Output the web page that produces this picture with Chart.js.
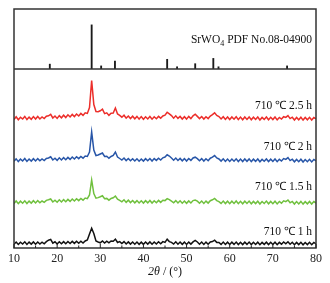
<!DOCTYPE html>
<html><head><meta charset="utf-8">
<script src="https://cdn.jsdelivr.net/npm/chart.js@4"></script>
<style>html,body{margin:0;padding:0;background:#fff;}</style>
</head><body>
<canvas id="c" width="330" height="283"></canvas>
<script>
// 2θ angles (degrees)
const angles = [
10,10.5,11,11.5,12,12.5,13,13.5,14,14.5,
15,15.5,16,16.5,17,17.5,18,18.5,19,19.5,
20,20.5,21,21.5,22,22.5,23,23.5,24,24.5,
25,25.5,26,26.5,27,27.5,28,28.5,29,29.5,
30,30.5,31,31.5,32,32.5,33,33.5,34,34.5,
35,35.5,36,36.5,37,37.5,38,38.5,39,39.5,
40,40.5,41,41.5,42,42.5,43,43.5,44,44.5,
45,45.5,46,46.5,47,47.5,48,48.5,49,49.5,
50,50.5,51,51.5,52,52.5,53,53.5,54,54.5,
55,55.5,56,56.5,57,57.5,58,58.5,59,59.5,
60,60.5,61,61.5,62,62.5,63,63.5,64,64.5,
65,65.5,66,66.5,67,67.5,68,68.5,69,69.5,
70,70.5,71,71.5,72,72.5,73,73.5,74,74.5,
75,75.5,76,76.5,77,77.5,78,78.5,79,79.5,
80];

// Stacked XRD intensities (a.u., offset)
const i25h = [
128.6,131.2,128.2,130.8,129.0,131.6,128.4,130.9,128.7,131.4,
128.9,131.5,129.0,131.0,129.4,131.8,132.2,133.6,130.0,132.0,
129.6,132.4,130.2,132.8,130.5,133.2,131.0,133.6,131.4,134.0,
132.0,134.6,132.6,135.2,134.6,140.5,167.5,143.5,136.5,136.2,
137.2,138.8,134.4,135.2,132.6,134.8,135.0,140.0,134.0,132.6,
130.8,132.8,129.9,132.0,129.4,131.8,129.2,131.6,128.9,131.4,
128.7,131.2,129.0,131.5,128.8,131.2,129.3,131.6,129.8,132.0,
132.8,135.8,134.2,132.4,129.8,132.2,129.6,131.6,129.0,131.3,
128.9,131.6,129.4,132.2,133.8,131.6,129.4,131.5,128.9,131.3,
129.4,132.0,133.4,135.2,132.6,131.4,129.0,131.3,128.6,131.0,
128.5,131.1,128.8,131.3,128.4,130.9,128.2,131.0,128.6,131.1,
128.2,130.8,128.5,131.0,128.0,130.6,128.6,131.0,128.2,130.7,
128.4,131.0,128.1,130.6,129.0,131.3,130.6,132.4,129.4,130.8,
128.0,130.6,128.2,130.8,127.9,130.5,128.2,130.7,128.0,130.5,
129.2];
const i2h = [
86.8,89.2,86.4,88.9,87.0,89.5,86.6,89.0,86.9,89.3,
87.0,89.4,87.2,89.0,87.5,89.6,90.0,91.2,88.0,89.8,
87.6,90.2,88.0,90.4,88.3,90.6,88.6,91.0,89.0,91.3,
89.4,91.6,89.8,92.0,91.5,96.0,116.0,98.0,92.5,93.0,
94.0,95.0,91.5,91.8,89.8,91.5,92.5,96.0,91.0,89.5,
88.0,90.0,87.4,89.5,87.2,89.3,87.0,89.2,86.8,89.0,
86.9,89.3,87.2,89.5,87.0,89.4,87.6,89.8,88.0,90.2,
91.0,93.2,92.0,90.0,87.8,90.0,87.5,89.6,87.2,89.4,
87.0,89.5,87.6,90.0,90.8,89.4,87.2,89.4,86.9,89.2,
87.3,89.8,90.8,92.4,90.0,89.0,86.9,89.2,86.6,89.0,
86.6,89.0,86.8,89.2,86.5,88.9,86.4,89.0,86.7,89.1,
86.4,88.8,86.6,89.0,86.2,88.6,86.7,89.0,86.4,88.8,
86.5,89.0,86.3,88.7,87.0,89.4,88.6,90.4,87.4,88.8,
86.2,88.6,86.3,88.8,86.0,88.5,86.3,88.7,86.1,88.5,
87.0];
const i15h = [
44.6,47.0,44.3,46.8,44.8,47.2,44.5,46.9,44.9,47.3,
45.0,47.4,45.2,47.0,45.6,47.6,48.2,49.0,46.0,47.8,
45.8,48.2,46.0,48.4,46.3,48.6,46.6,49.0,47.0,49.3,
47.4,49.6,47.8,50.0,49.4,53.0,68.0,54.5,49.8,50.4,
51.2,52.2,49.2,49.6,47.8,49.5,50.2,52.0,48.8,47.6,
46.2,48.2,45.6,47.8,45.4,47.5,45.2,47.4,45.0,47.2,
44.9,47.3,45.1,47.5,44.9,47.3,45.3,47.6,45.6,47.8,
47.4,49.4,48.4,46.8,45.2,47.4,45.0,47.2,44.8,47.0,
44.7,47.1,45.0,47.4,48.0,46.8,44.8,47.0,44.6,46.9,
44.9,47.3,48.2,49.6,47.4,46.4,44.6,46.9,44.4,46.8,
44.3,46.8,44.5,47.0,44.3,46.7,44.2,46.8,44.5,46.9,
44.2,46.6,44.4,46.8,44.0,46.5,44.5,46.9,44.2,46.6,
44.3,46.8,44.1,46.5,44.8,47.2,46.4,48.0,45.2,46.6,
44.0,46.4,44.1,46.6,43.9,46.3,44.2,46.6,44.0,46.4,
45.0];
const i1h = [
3.8,6.0,3.5,5.8,4.0,6.2,3.6,5.9,3.9,6.1,
3.8,6.0,4.0,5.8,4.2,6.4,7.8,8.6,4.8,6.2,
4.0,6.3,4.2,6.4,4.3,6.5,4.5,6.6,4.6,6.8,
4.8,6.8,5.0,7.0,8.0,14.0,19.8,14.5,7.0,6.0,
5.2,7.0,5.0,6.8,5.2,7.0,6.8,8.8,5.5,6.4,
4.4,6.4,4.0,6.1,3.9,6.0,3.8,6.0,3.7,5.9,
3.7,6.0,3.9,6.1,3.8,6.0,4.0,6.2,4.2,6.4,
5.6,8.8,6.4,5.6,4.0,6.2,3.8,6.0,3.7,5.9,
3.6,5.9,3.9,6.1,7.6,6.0,3.8,6.0,3.6,5.9,
3.8,6.0,6.4,7.8,5.6,5.6,3.6,5.9,3.5,5.8,
3.5,5.8,3.6,5.9,3.4,5.7,3.4,5.8,3.6,5.9,
3.4,5.7,3.5,5.8,3.3,5.6,3.6,5.8,3.4,5.7,
3.5,5.8,3.3,5.6,3.8,6.0,4.2,6.2,3.8,5.7,
3.3,5.6,3.4,5.7,3.2,5.5,3.4,5.7,3.3,5.6,
4.2];

// SrWO4 PDF No.08-04900 reference lines
const refAngles = [18.3, 28.0, 30.2, 33.4, 45.5, 47.8, 52.0, 56.2, 57.4, 73.3];
const refIntensity = [11, 100, 7, 18, 22, 5, 12, 24, 5, 7];

const seriesLabels = ['710 \u2103 2.5 h', '710 \u2103 2 h', '710 \u2103 1.5 h', '710 \u2103 1 h'];
const xTickLabels = [10, 20, 30, 40, 50, 60, 70, 80];

// annotation anchors (data coordinates)
const seriesLabelY = [142, 100.7, 60.7, 16];
const labelX = 79.1;
const refLabelY = 65;

const serif = '"Liberation Serif", "Times New Roman", serif';
const pts = ys => angles.map((a, i) => ({x: a, y: ys[i]}));
const lineDs = (label, ys, color) => ({
  type: 'line', label, data: pts(ys), yAxisID: 'yBot', borderColor: color,
  borderWidth: 1.5, pointRadius: 0, tension: 0, fill: false, borderJoinStyle: 'miter'
});

const decor = {
  id: 'decor',
  afterDraw(chart) {
    const {ctx, chartArea: ca, scales} = chart;
    const x = scales.x, yTop = scales.yTop, yBot = scales.yBot;
    ctx.save();
    ctx.strokeStyle = '#333';
    ctx.lineWidth = 1.5;
    ctx.strokeRect(ca.left, ca.top, ca.right - ca.left, ca.bottom - ca.top);
    // separator
    ctx.beginPath();
    ctx.moveTo(ca.left, yTop.bottom); ctx.lineTo(ca.right, yTop.bottom);
    ctx.stroke();
    // inward ticks
    ctx.lineWidth = 1;
    ctx.strokeStyle = '#222';
    x.ticks.forEach(t => {
      const px = x.getPixelForValue(t.value);
      const len = (t.value % 10 === 0) ? 4 : 2.5;
      ctx.beginPath();
      ctx.moveTo(px, ca.bottom); ctx.lineTo(px, ca.bottom - len);
      ctx.stroke();
    });
    // series labels
    ctx.fillStyle = '#111';
    ctx.font = '11.5px ' + serif;
    ctx.textAlign = 'right';
    ctx.textBaseline = 'middle';
    const rx = x.getPixelForValue(labelX);
    seriesLabels.forEach((s, i) => ctx.fillText(s, rx, yBot.getPixelForValue(seriesLabelY[i])));
    // SrWO4 label with subscript
    const ry = yTop.getPixelForValue(refLabelY);
    const f1 = '11.5px ' + serif, f2 = '8px ' + serif;
    ctx.font = f1; const w1 = ctx.measureText('SrWO').width;
    const w3 = ctx.measureText(' PDF No.08-04900').width;
    ctx.font = f2; const w2 = ctx.measureText('4').width;
    let sx = rx - (w1 + w2 + w3);
    ctx.textAlign = 'left';
    ctx.font = f1; ctx.fillText('SrWO', sx, ry); sx += w1;
    ctx.font = f2; ctx.fillText('4', sx, ry + 3.5); sx += w2;
    ctx.font = f1; ctx.fillText(' PDF No.08-04900', sx, ry);
    // x title: 2θ / (°)
    const fi = 'italic 12px ' + serif, fn = '12px ' + serif;
    ctx.font = fi; const a = ctx.measureText('2\u03B8').width;
    ctx.font = fn; const b = ctx.measureText(' / (\u00B0)').width;
    let tx = (ca.left + ca.right) / 2 - (a + b) / 2;
    const ty = 272;
    ctx.font = fi; ctx.fillText('2\u03B8', tx, ty); tx += a;
    ctx.font = fn; ctx.fillText(' / (\u00B0)', tx, ty);
    ctx.restore();
  }
};

const hiddenY = {
  type: 'linear', position: 'left', stack: 'panels', offset: false,
  grid: {display: false, drawTicks: false}, border: {display: false}, ticks: {display: false}
};

new Chart(document.getElementById('c'), {
  type: 'line',
  data: {
    datasets: [
      {type: 'bar', label: 'SrWO4 PDF No.08-04900', data: refAngles.map((a, i) => ({x: a, y: refIntensity[i]})),
       yAxisID: 'yTop', backgroundColor: '#1a1a1a', borderWidth: 0, barThickness: 1.2},
      lineDs(seriesLabels[3], i1h, '#111111'),
      lineDs(seriesLabels[2], i15h, 'rgb(112,192,62)'),
      lineDs(seriesLabels[1], i2h, 'rgb(40,86,168)'),
      lineDs(seriesLabels[0], i25h, 'rgb(236,46,42)')
    ]
  },
  options: {
    responsive: false, animation: false,
    layout: {padding: {left: 14, right: 14, top: 9, bottom: 0}},
    plugins: {legend: {display: false}, tooltip: {enabled: false}},
    scales: {
      x: {
        type: 'linear', min: 10, max: 80, offset: false,
        grid: {display: false, drawTicks: false}, border: {display: false},
        ticks: {stepSize: 5, autoSkip: false, maxRotation: 0, padding: 4, color: '#222',
          font: {family: serif, size: 12},
          callback: v => xTickLabels.includes(v) ? String(v) : ''},
        afterFit: s => { s.height = 35; }
      },
      yBot: Object.assign({}, hiddenY, {min: 0, max: 179, stackWeight: 179}),
      yTop: Object.assign({}, hiddenY, {min: 0, max: 136, stackWeight: 60})
    }
  },
  plugins: [decor]
});
</script>
</body></html>
